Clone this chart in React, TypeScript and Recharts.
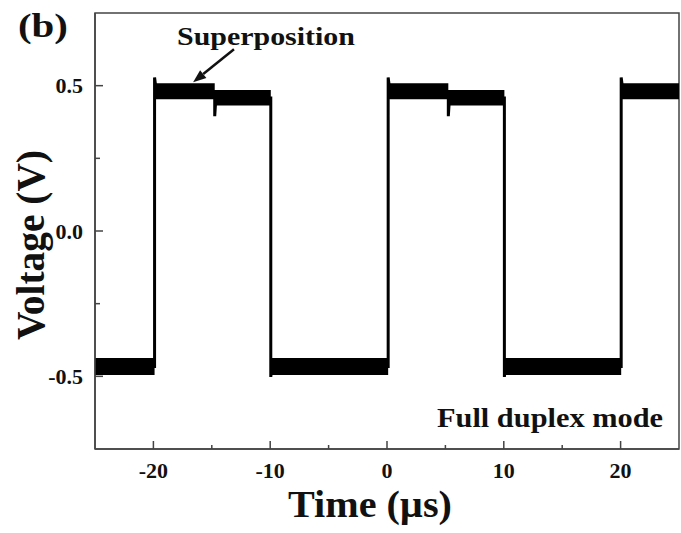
import React from "react";
import {
  ComposedChart,
  Area,
  Line,
  XAxis,
  YAxis,
  ReferenceArea,
  ReferenceLine,
} from "recharts";

// time points in µs (pairs at the same time = vertical edges)
const times = [
  -25, -19.9, -19.9, -19.75, -14.75, -14.75, -14.65, -9.95, -9.95, -9.85,
  0.1, 0.1, 0.25, 5.25, 5.25, 5.35, 10.05, 10.05, 10.15, 20.05, 20.05, 20.2, 25,
];
// centre of the trace incl. overshoot / dip spikes (V)
const trace = [
  -0.466, -0.466, 0.528, 0.48, 0.48, 0.395, 0.458, 0.458, -0.502, -0.466,
  -0.466, 0.528, 0.48, 0.48, 0.395, 0.458, 0.458, -0.502, -0.466,
  -0.466, 0.528, 0.48, 0.48,
];
// noise envelope of the trace (V)
const lower = [
  -0.495, -0.495, 0.453, 0.453, 0.453, 0.432, 0.432, 0.432, -0.495, -0.495,
  -0.495, 0.453, 0.453, 0.453, 0.432, 0.432, 0.432, -0.495, -0.495,
  -0.495, 0.453, 0.453, 0.453,
];
const upper = [
  -0.437, -0.437, 0.508, 0.508, 0.508, 0.485, 0.485, 0.485, -0.437, -0.437,
  -0.437, 0.508, 0.508, 0.508, 0.485, 0.485, 0.485, -0.437, -0.437,
  -0.437, 0.508, 0.508, 0.508,
];

const xTicks = [-20, -15, -10, -5, 0, 5, 10, 15, 20];
const yTicks = [-0.5, -0.25, 0, 0.25, 0.5];

const data = times.map((t, i) => ({
  t,
  v: trace[i],
  band: [lower[i], upper[i]],
}));

const FONT = "'Liberation Serif', 'Times New Roman', serif";
const AXIS = "#444";

const XTick = (props: any) => {
  const { x, y, payload } = props;
  const major = payload.value % 10 === 0;
  return (
    <g>
      <line x1={x} x2={x} y1={y} y2={y - (major ? 8 : 4)} stroke={AXIS} strokeWidth={1.5} />
      {major && (
        <text x={x} y={y + 29} textAnchor="middle" fontFamily={FONT} fontWeight="bold" fontSize={22} fill="#111">
          {payload.value}
        </text>
      )}
    </g>
  );
};

const YTick = (props: any) => {
  const { x, y, payload } = props;
  const major = Math.abs(payload.value * 2 - Math.round(payload.value * 2)) < 1e-6;
  return (
    <g>
      <line x1={x} x2={x + (major ? 8 : 5)} y1={y} y2={y} stroke={AXIS} strokeWidth={1.5} />
      {major && (
        <text x={x - 12} y={y + 7.5} textAnchor="end" fontFamily={FONT} fontWeight="bold" fontSize={22} fill="#111">
          {payload.value.toFixed(1)}
        </text>
      )}
    </g>
  );
};

const Arrow = (props: any) => {
  const { x1, y1, x2, y2 } = props;
  const a = Math.atan2(y2 - y1, x2 - x1);
  const L = 13;
  const w = 5;
  const bx = x2 - L * Math.cos(a);
  const by = y2 - L * Math.sin(a);
  return (
    <g>
      <line x1={x1} y1={y1} x2={bx} y2={by} stroke="#111" strokeWidth={2.5} />
      <polygon
        points={`${x2},${y2} ${bx + w * Math.sin(a)},${by - w * Math.cos(a)} ${bx - w * Math.sin(a)},${by + w * Math.cos(a)}`}
        fill="#111"
      />
    </g>
  );
};

const App: React.FC = () => {
  return (
    <div style={{ position: "absolute", left: 0, top: 0, width: 681, height: 533, background: "#fff" }}>
      <ComposedChart
        width={681}
        height={533}
        data={data}
        margin={{ top: 13, right: 2, left: 0, bottom: 0 }}
      >
        <XAxis
          dataKey="t"
          type="number"
          domain={[-25, 25]}
          ticks={xTicks}
          tickSize={0}
          tickMargin={0}
          tickLine={false}
          tick={<XTick />}
          axisLine={{ stroke: AXIS, strokeWidth: 1.5 }}
          height={84}
          interval={0}
        />
        <YAxis
          type="number"
          domain={[-0.75, 0.75]}
          ticks={yTicks}
          tickSize={0}
          tickMargin={0}
          tickLine={false}
          tick={<YTick />}
          axisLine={{ stroke: AXIS, strokeWidth: 1.5 }}
          width={95}
          interval={0}
        />
        <ReferenceArea x1={-25} x2={25} y1={-0.75} y2={0.75} fill="none" stroke={AXIS} strokeWidth={1.5} ifOverflow="visible" />
        <Area
          dataKey="band"
          type="linear"
          fill="#000"
          fillOpacity={1}
          stroke="none"
          isAnimationActive={false}
          dot={false}
          activeDot={false}
        />
        <Line
          dataKey="v"
          type="linear"
          stroke="#000"
          strokeWidth={3}
          dot={false}
          activeDot={false}
          isAnimationActive={false}
        />
        <ReferenceLine
          segment={[
            { x: -13.1, y: 0.625 },
            { x: -16.6, y: 0.512 },
          ]}
          shape={<Arrow />}
          ifOverflow="visible"
        />
      </ComposedChart>
      <svg
        width={681}
        height={533}
        style={{ position: "absolute", left: 0, top: 0, pointerEvents: "none" }}
      >
        <g fontFamily={FONT} fontWeight="bold" fill="#111">
          <text x={18} y={37} fontSize={34} textLength={50} lengthAdjust="spacingAndGlyphs">(b)</text>
          <text x={177} y={45} fontSize={25} textLength={178} lengthAdjust="spacingAndGlyphs">Superposition</text>
          <text x={437} y={427} fontSize={28} textLength={226} lengthAdjust="spacingAndGlyphs">Full duplex mode</text>
          <text x={288} y={517} fontSize={38} textLength={164} lengthAdjust="spacingAndGlyphs">Time (µs)</text>
          <text
            transform="translate(44,245) rotate(-90)"
            x={0}
            y={0}
            textAnchor="middle"
            fontSize={40}
            textLength={190}
            lengthAdjust="spacingAndGlyphs"
          >
            Voltage (V)
          </text>
        </g>
      </svg>
    </div>
  );
};

export default App;
